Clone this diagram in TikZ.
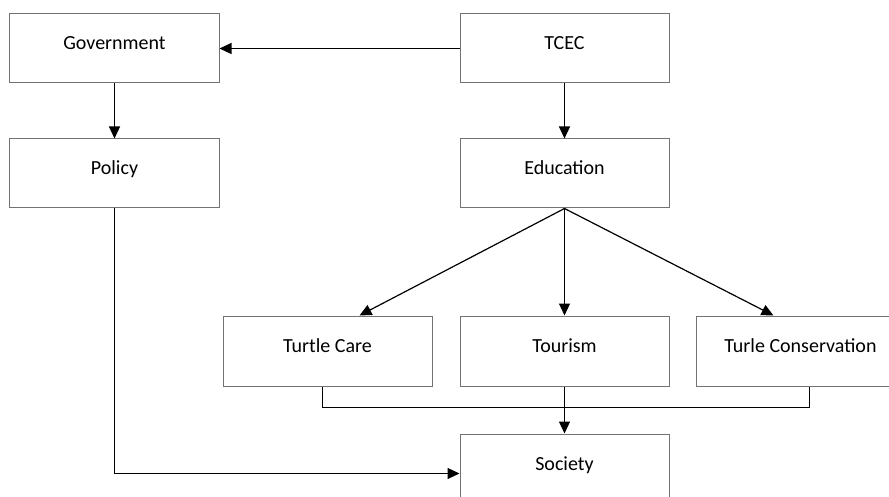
\documentclass[tikz,border=0pt]{standalone}
\usepackage{fontspec}
\setmainfont{Carlito}
\usetikzlibrary{positioning, calc, arrows.meta}

\begin{document}
\begin{tikzpicture}[x=1pt, y=1pt]
  \newcommand\boxwidth{209pt}
  \newcommand\boxheight{69pt}
  \newcommand\rowgap{55pt}
  \newcommand\colgap{240pt}
  \newcommand\leafgap{107pt}

  \tikzset{ptr/.style={-{Triangle[length=12pt, width=11pt]}, line width=1.2pt}}
  \tikzset{link/.style={line width=1pt}}
  \tikzset{orgbox/.style={draw=black!55, line width=1pt, minimum width=\boxwidth, minimum height=\boxheight,
    inner sep=0pt, text height=14pt, text depth=11pt, font=\fontsize{20pt}{24pt}\selectfont}}

  % page frame, gov sits at its centre (0,0)
  \useasboundingbox (-114.5, 48.5) rectangle ++(889, -497);

  % top rows
  \node[orgbox] at (0, 0) (gov) {Government};
  \node[orgbox, right=\colgap of gov] (tcec) {TCEC};
  \node[orgbox, below=\rowgap of gov] (policy) {Policy};
  \node[orgbox, below=\rowgap of tcec] (edu) {Education};

  % education branches
  \node[orgbox, below=\leafgap of edu, minimum height=70pt] (tour) {Tourism};
  \node[orgbox, left=27pt of tour, minimum height=70pt] (care) {Turtle Care};
  \node[orgbox, right=26pt of tour, minimum height=70pt] (cons) {Turle Conservation};
  \node[orgbox, below=47pt of tour] (soc) {Society};

  \draw[ptr] (tcec.west) -- (gov.east);
  \draw[ptr] (gov) -- (policy);
  \draw[ptr] (tcec) -- (edu);

  \draw[ptr] (edu.south) -- ($(care.north)+(32, 0)$);
  \draw[ptr] (edu) -- (tour);
  \draw[ptr] (edu.south) -- ($(cons.north)+(-27, 0)$);

  % merge into society
  \draw[link] ($(care.south)+(-5, 0)$) -- ++(0, -21) -| ($(cons.south)+(9, 0)$);
  \draw[ptr] (tour) -- (soc);
  \draw[ptr] (policy.south) |- ($(soc.west)+(0, -5)$);
\end{tikzpicture}
\end{document}
